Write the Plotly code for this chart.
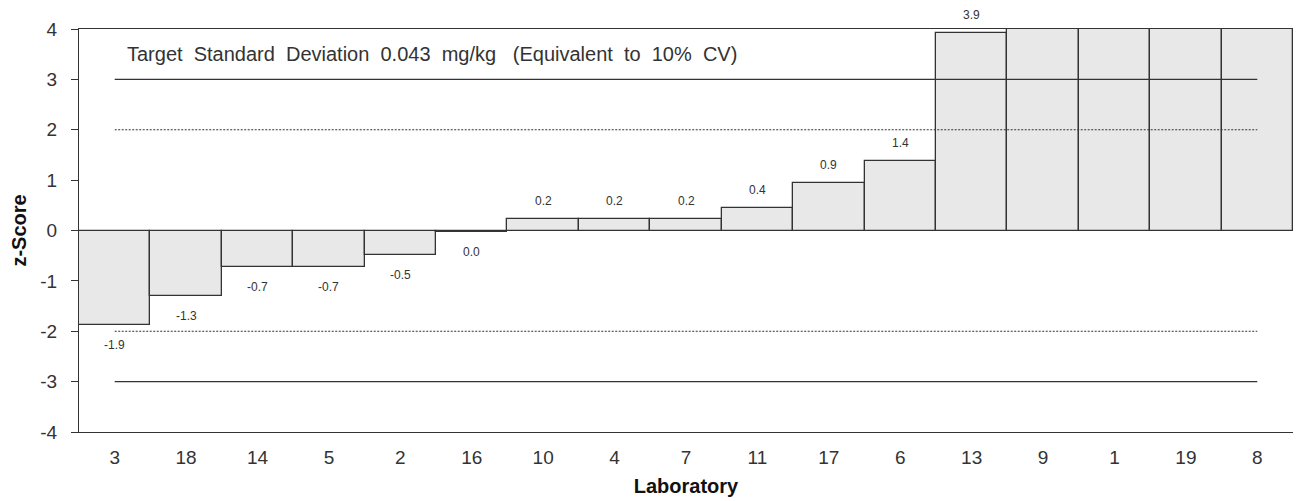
import plotly.graph_objects as go

labs = ["3", "18", "14", "5", "2", "16", "10", "4", "7", "11", "17", "6", "13", "9", "1", "19", "8"]
zscores = [-1.88, -1.31, -0.72, -0.72, -0.49, -0.03, 0.22, 0.22, 0.22, 0.44, 0.94, 1.37, 3.93, 5.0, 6.0, 7.5, 9.0]
ymin, ymax = -4, 4
ytick_vals = [-4, -3, -2, -1, 0, 1, 2, 3, 4]
ytick_text = ["-4", "-3", "-2", "-1", "0", "1", "2", "3", "4"]
note = "Target  Standard  Deviation  0.043  mg/kg   (Equivalent  to  10%  CV)"

INK = "#333333"
FONT = "Liberation Sans, Arial, sans-serif"

fig = go.Figure()
fig.add_trace(go.Bar(
    x=labs, y=zscores, width=1.0,
    marker=dict(color="#e8e8e8", line=dict(color=INK, width=1.3)),
    showlegend=False, hoverinfo="x+y",
))
for lvl, dash in [(3, "solid"), (-3, "solid"), (2, "2px,1.5px"), (-2, "2px,1.5px")]:
    fig.add_trace(go.Scatter(
        x=[labs[0], labs[-1]], y=[lvl, lvl], mode="lines",
        line=dict(color=INK, width=1.2 if dash == "solid" else 1, dash=dash),
        showlegend=False, hoverinfo="skip",
    ))

annots = []
for i, v in enumerate(zscores):
    if v > ymax:
        continue
    annots.append(dict(
        x=i, y=v, xref="x", yref="y",
        text=f"{v:.1f}" if abs(v) >= 0.05 else "0.0",
        showarrow=False, yshift=18 if v >= 0 else -20,
        font=dict(size=12, color=INK, family=FONT),
    ))
annots.append(dict(
    xref="paper", yref="paper", x=0.038, y=0.938, xanchor="left", yanchor="middle",
    text=note, showarrow=False, font=dict(size=20, color=INK, family=FONT),
))

fig.update_layout(
    width=1301, height=501,
    margin=dict(l=71, r=16, t=21, b=77),
    paper_bgcolor="white", plot_bgcolor="white",
    font=dict(family=FONT, color=INK),
    bargap=0,
    annotations=annots,
    xaxis=dict(
        type="category", range=[-0.5, len(labs) - 0.5], automargin=False,
        showline=True, linecolor=INK, linewidth=1.3, mirror=True,
        showgrid=False, ticks="", tickfont=dict(size=19, color=INK),
        ticklabelstandoff=8,
        title=dict(text="<b>Laboratory</b>", font=dict(size=20, color="#111111"), standoff=12),
        layer="below traces",
    ),
    yaxis=dict(
        range=[ymin, ymax], tickvals=ytick_vals, ticktext=ytick_text, automargin=False,
        showline=True, linecolor=INK, linewidth=1.3, mirror=True,
        showgrid=False, zeroline=True, zerolinecolor=INK, zerolinewidth=1.3,
        ticks="outside", ticklen=7, tickcolor=INK, tickwidth=1.3,
        tickfont=dict(size=19, color=INK), ticklabelstandoff=10,
        title=dict(text="<b>z-Score</b>", font=dict(size=20, color="#111111"), standoff=16),
        layer="below traces",
    ),
)

fig.write_html("out.html")
